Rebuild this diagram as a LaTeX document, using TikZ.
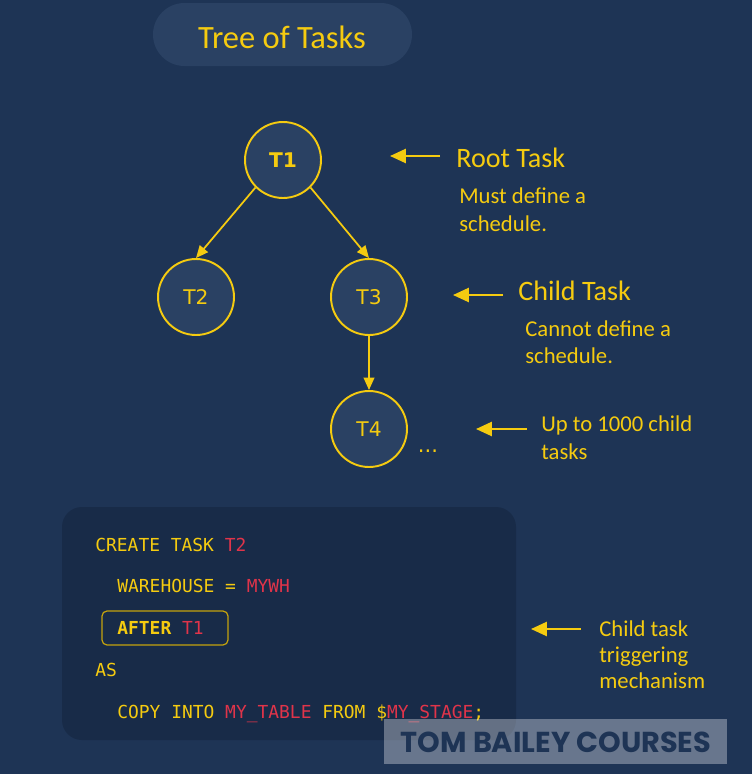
\documentclass[tikz,border=0pt]{standalone}
\usepackage{fontspec}
\setmainfont{Carlito}
\newfontfamily\labelfont{DejaVu Sans}
\newfontfamily\codefont{DejaVu Sans Mono}
\newfontfamily\markfont{Poppins}
\usetikzlibrary{arrows.meta}

\definecolor{bgnavy}{HTML}{1E3455}
\definecolor{pillblue}{HTML}{2A4163}
\definecolor{codebg}{HTML}{182B48}
\definecolor{gold}{HTML}{F5CB10}
\definecolor{codered}{HTML}{E0344A}

\begin{document}
\begin{tikzpicture}[x=0.02cm,y=-0.02cm]
		\fill[bgnavy] (0,0) rectangle (752,774);
		\useasboundingbox (0,0) rectangle (752,774);

		% title
		\fill[pillblue,rounded corners=0.63cm] (153,3) rectangle (412,66);
		\node(title)[text=gold,font=\fontsize{18.5}{22}\selectfont] at (282,37) {Tree of Tasks};

		\begin{scope}
            [
                every node/.style={circle, minimum size=1.52cm, inner sep=0pt, draw=gold, fill=pillblue, line width=1.1pt, text=gold, font=\labelfont\fontsize{11.5}{13}\selectfont}
            ]
			\node(t1) at (283,160) {\bfseries T1};
			\node(t2) at (196,297) {T2};
			\node(t3) at (369,297) {T3};
			\node(t4) at (369,429) {T4};
		\end{scope}
		\node(dots)[text=gold,font=\labelfont\fontsize{12}{14}\selectfont] at (428,451) {...};

		\begin{scope}
            [>={Triangle[length=7pt,width=6pt]},
                every edge/.style={draw=gold,line width=1pt},
            ]
            \path 
            (t1.225) edge[->] (t2.north)
			(t1.315) edge[->] (t3.north)
			(t3) edge[->] (t4);
		\end{scope}

		% notes on the right
		\begin{scope}
            [
                every node/.style={anchor=base west, inner sep=0pt, text=gold},
				head/.style = {font=\fontsize{16}{19}\selectfont},
				note/.style = {font=\fontsize{12.9}{15}\selectfont}
            ]
			\node(root)[head] at (456,167) {Root Task};
			\node(rootA)[note] at (459,203) {Must define a};
			\node(rootB)[note] at (459,231) {schedule.};
			\node(child)[head] at (518,300) {Child Task};
			\node(childA)[note] at (525,336) {Cannot define a};
			\node(childB)[note] at (525,363) {schedule.};
			\node(upto)[note] at (541,431) {Up to 1000 child};
			\node(uptoB)[note] at (541,459) {tasks};
			\node(trig)[note] at (599,636) {Child task};
			\node(trigB)[note] at (599,662) {triggering};
			\node(trigC)[note] at (599,688) {mechanism};
		\end{scope}
		\begin{scope}
            [>={Triangle[length=9pt,width=8pt]},
                every path/.style={draw=gold,line width=1.2pt},
            ]
			\coordinate(p1) at (390,156);
			\coordinate(p2) at (453,295);
			\coordinate(p3) at (476,429);
			\coordinate(p4) at (531,629);
            \draw[->] (440,156) -- (p1);
            \draw[->] (503,295) -- (p2);
            \draw[->] (527,429) -- (p3);
            \draw[->] (581,629) -- (p4);
		\end{scope}

		% code block
		\fill[codebg,rounded corners=0.4cm] (62,507) rectangle (516,740);
		\begin{scope}
            [
                every node/.style={anchor=base west, inner sep=0pt, text=gold, font=\codefont\fontsize{10.2}{12}\selectfont}
            ]
			\node(l1) at (95,551) {CREATE TASK \textcolor{codered}{T2}};
			\node(l2) at (117,592) {WAREHOUSE = \textcolor{codered}{MYWH}};
			\node(l3) at (117,634) {\bfseries AFTER \textcolor{codered}{\mdseries T1}};
			\node(l4) at (95,676) {AS};
			\node(l5) at (117,718) {COPY INTO \textcolor{codered}{MY\_TABLE} FROM \$\textcolor{codered}{MY\_STAGE};};
		\end{scope}
		\draw[gold!80!black,line width=0.7pt,rounded corners=0.1cm] (102,611) rectangle (228,645);

		% watermark
		\fill[white,opacity=0.33] (384,719) rectangle (727,764);
		\node(mark)[text=bgnavy,font=\markfont\bfseries\fontsize{16.4}{19}\selectfont] at (556,742) {TOM BAILEY COURSES};
    \end{tikzpicture}
\end{document}
